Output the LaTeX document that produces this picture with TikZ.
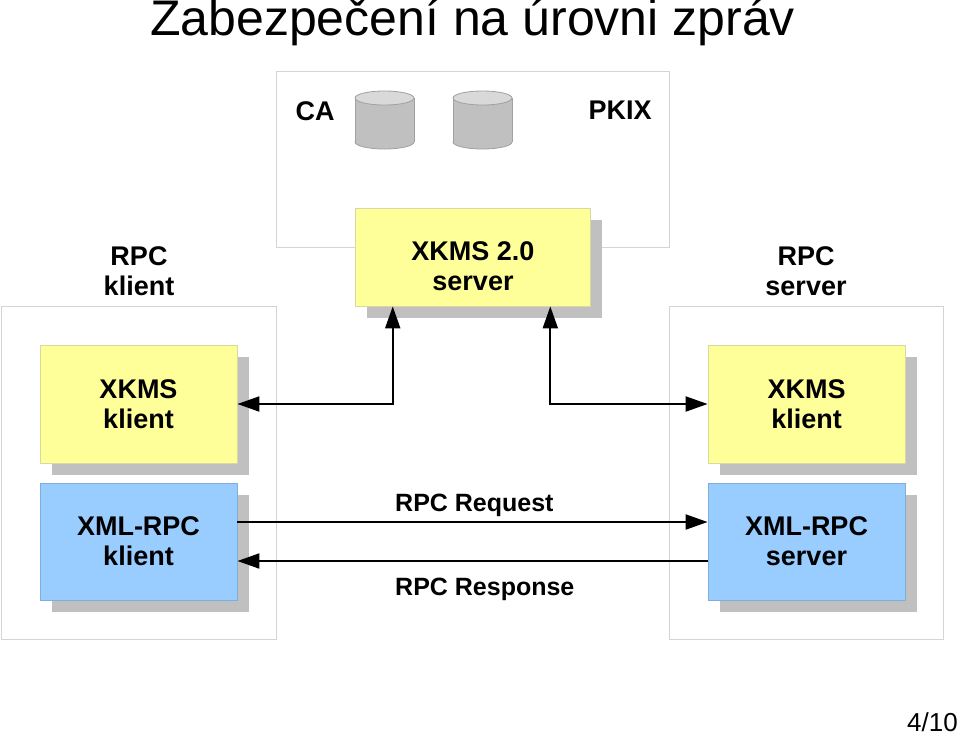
\documentclass[tikz,border=0pt]{standalone}
\usepackage{fontspec}
\setmainfont{Liberation Sans}
\usetikzlibrary{arrows.meta,shadows,calc}
\definecolor{boxyellow}{HTML}{FFFF99}
\definecolor{boxyellowline}{HTML}{D8D8A0}
\definecolor{boxblue}{HTML}{99CCFF}
\definecolor{boxblueline}{HTML}{80AEDC}
\definecolor{shadowgray}{HTML}{C0C0C0}
\definecolor{framegray}{HTML}{D4D4D4}
\definecolor{cylbody}{HTML}{C0C0C0}
\definecolor{cyltop}{HTML}{D9D9D9}
\definecolor{cylline}{HTML}{A0A0A0}
\newcommand\mylab{\bfseries\fontsize{27}{30}\selectfont}
\begin{document}
\begin{tikzpicture}[x=1pt,y=-1pt,
  frame/.style={draw=framegray, line width=1pt},
  shbox/.style={rectangle, line width=0.8pt, inner sep=0pt,
    minimum width=197pt, minimum height=118pt, font=\mylab, align=center,
    drop shadow={shadow xshift=12pt, shadow yshift=-12pt, fill=shadowgray, opacity=1}},
  ybox/.style={shbox, fill=boxyellow, draw=boxyellowline},
  bbox/.style={shbox, fill=boxblue, draw=boxblueline},
  lab/.style={font=\mylab, align=center, inner sep=0pt},
  flow/.style={font=\bfseries\fontsize{25}{28}\selectfont, inner sep=0pt, anchor=base west},
  arr/.style={line width=2pt, -{Triangle[length=22pt,width=15pt]}},
  arrboth/.style={line width=2pt, {Triangle[length=22pt,width=15pt]}-{Triangle[length=22pt,width=15pt]}},
  cyl/.style={draw=cylline, line width=0.8pt}
]
\useasboundingbox (0,0) rectangle (960,734);

% title and page number
\node[anchor=base west, inner sep=0pt, font=\fontsize{50}{60}\selectfont] (title) at (150,35) {Zabezpečení na úrovni zpráv};
\node[anchor=base east, inner sep=0pt, font=\fontsize{26}{30}\selectfont] (page) at (958,731) {4/10};

% frames
\draw[frame] (276,71) rectangle (669,247);
\draw[frame] (1,306) rectangle (276,639);
\draw[frame] (669,306) rectangle (943,639);

% PKIX area
\node[lab] (ca) at (315,111) {CA};
\node[lab] (pkix) at (620,110) {PKIX};
\foreach \cx in {384.5,482.5} {
  \filldraw[cyl, fill=cylbody] (\cx,142) ellipse [x radius=29.5, y radius=7];
  \fill[cylbody] (\cx-29.5,98) rectangle (\cx+29.5,142);
  \draw[cyl] (\cx-29.5,98) -- (\cx-29.5,142) (\cx+29.5,98) -- (\cx+29.5,142);
  \filldraw[cyl, fill=cyltop] (\cx,98) ellipse [x radius=29.5, y radius=7];
}

% side labels
\node[lab] (rpck) at (139,271) {RPC\\klient};
\node[lab] (rpcs) at (806,271) {RPC\\server};

% boxes
\node[ybox, minimum width=235pt, minimum height=98pt] (srv) at (472.5,257) {};
\node[lab] (srvt) at (473,266) {XKMS 2.0\\server};
\node[ybox] (lk) at (138.5,404) {XKMS\\klient};
\node[bbox, minimum height=117pt] (lx) at (138.5,541.5) {XML-RPC\\klient};
\node[ybox] (rk) at (806.5,404) {XKMS\\klient};
\node[bbox, minimum height=117pt] (rx) at (806.5,541.5) {XML-RPC\\server};

% connectors
\draw[arrboth] (lk.east) -| ($(srv.south west)!0.1617!(srv.south east)$);
\draw[arrboth] (rk.west) -| ($(srv.south west)!0.83!(srv.south east)$);
\draw[arr] ([yshift=19.5pt]lx.east) -- ([yshift=19.5pt]rx.west);
\draw[arr] ([yshift=-19.5pt]rx.west) -- ([yshift=-19.5pt]lx.east);

\node[flow] (req) at (395,511) {RPC Request};
\node[flow] (resp) at (395,595) {RPC Response};
\end{tikzpicture}
\end{document}
